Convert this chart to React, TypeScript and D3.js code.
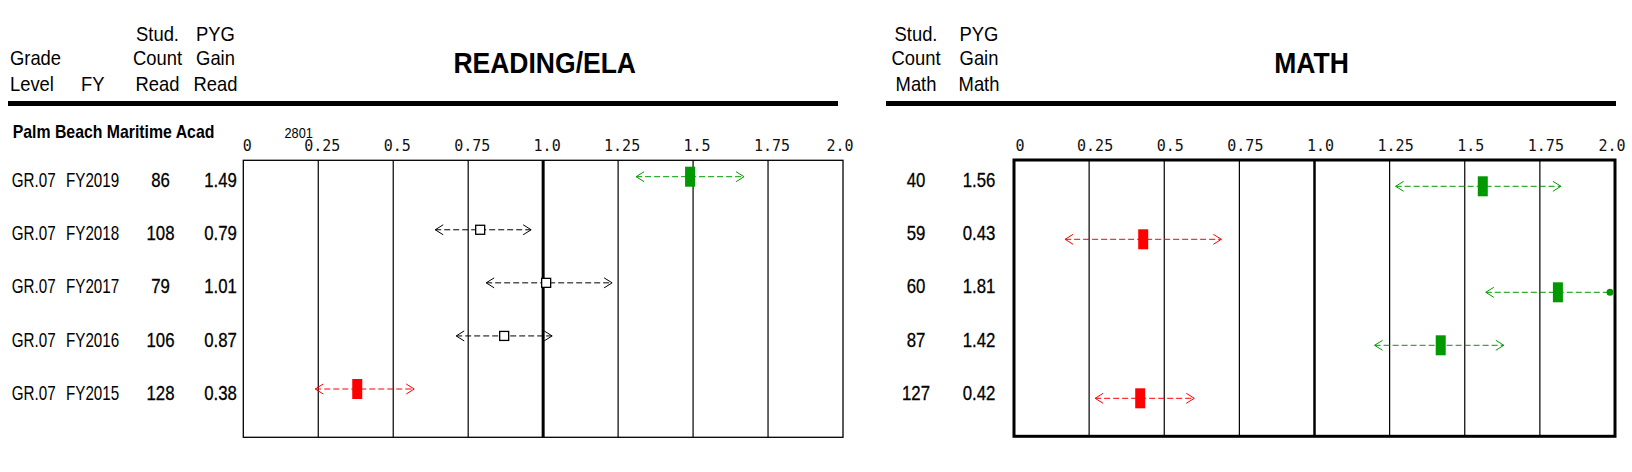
import React from 'react';
import * as d3 from 'd3';

// Row descriptors
const gradeLevels = ['GR.07', 'GR.07', 'GR.07', 'GR.07', 'GR.07'];
const fiscalYears = ['FY2019', 'FY2018', 'FY2017', 'FY2016', 'FY2015'];

// Reading / ELA
const readCounts = [86, 108, 79, 106, 128];
const readGain = [1.49, 0.79, 1.01, 0.87, 0.38];
const readLower = [1.31, 0.64, 0.81, 0.71, 0.24];
const readUpper = [1.67, 0.96, 1.23, 1.03, 0.57];
const readFlags = ['high', 'none', 'none', 'none', 'low'];

// Math
const mathCounts = [40, 59, 60, 87, 127];
const mathGain = [1.56, 0.43, 1.81, 1.42, 0.42];
const mathLower = [1.27, 0.17, 1.57, 1.2, 0.27];
const mathUpper = [1.82, 0.69, 2.08, 1.63, 0.6];
const mathFlags = ['high', 'low', 'high', 'high', 'low'];

// Gain axis
const axisTicks = [0, 0.25, 0.5, 0.75, 1.0, 1.25, 1.5, 1.75, 2.0];
const tickLabels = ['0', '0.25', '0.5', '0.75', '1.0', '1.25', '1.5', '1.75', '2.0'];

const schoolName = 'Palm Beach Maritime Acad';
const schoolCode = '2801';

const SANS = '"Liberation Sans", Arial, Helvetica, sans-serif';
const MONO = '"DejaVu Sans Mono", monospace';
const flagColor: Record<string, string> = { high: '#009900', low: '#ff0000', none: '#000' };

type CTextProps = {
  x: number;
  y: number;
  s?: number;
  size: number;
  anchor?: 'start' | 'middle' | 'end';
  weight?: string | number;
  stroke?: number;
  children: React.ReactNode;
};

// Horizontally condensed text
function CText({ x, y, s = 0.85, size, anchor = 'start', weight = 'normal', stroke = 0, children }: CTextProps) {
  return (
    <text
      transform={`translate(${x},${y}) scale(${s},1)`}
      textAnchor={anchor}
      fontFamily={SANS}
      fontSize={size}
      fontWeight={weight}
      fill="#000"
      stroke={stroke ? '#000' : 'none'}
      strokeWidth={stroke}
    >
      {children}
    </text>
  );
}

type PanelProps = {
  x0: number;
  x1: number;
  top: number;
  bottom: number;
  border: number;
  refWidth: number;
  rowTop: number;
  rowBottom: number;
  gains: number[];
  lowers: number[];
  uppers: number[];
  flags: string[];
  labelDx: number;
};

function Panel({ x0, x1, top, bottom, border, refWidth, rowTop, rowBottom, gains, lowers, uppers, flags, labelDx }: PanelProps) {
  const x = d3.scaleLinear().domain([0, 2]).range([x0, x1]);
  const y = d3.scalePoint<number>().domain(d3.range(gains.length)).range([rowTop, rowBottom]);
  const [dMin, dMax] = x.domain();

  return (
    <g>
      {/* tick labels */}
      {axisTicks.map((t, i) => (
        <text
          key={`l${i}`}
          x={t === dMax ? x(t) - 3 : x(t) + labelDx}
          y={150.7}
          textAnchor="middle"
          fontFamily={MONO}
          fontSize={15}
          fill="#111"
        >
          {tickLabels[i]}
        </text>
      ))}
      {/* grid lines */}
      {axisTicks.slice(1, -1).map((t, i) => (
        <line
          key={`g${i}`}
          x1={x(t)}
          x2={x(t)}
          y1={top}
          y2={bottom}
          stroke="#000"
          strokeWidth={t === 1 ? refWidth : 1.2}
        />
      ))}
      {/* frame */}
      <rect
        x={x0}
        y={top}
        width={x1 - x0}
        height={bottom - top}
        fill="none"
        stroke="#000"
        strokeWidth={border}
      />
      {/* confidence intervals and gain markers */}
      {gains.map((g, i) => {
        const cy = y(i) as number;
        const lo = lowers[i];
        const hi = uppers[i];
        const color = flagColor[flags[i]];
        const xl = x(Math.max(lo, dMin));
        const clipped = hi > dMax;
        const xr = clipped ? x(dMax) - 5 : x(hi);
        const xm = x(g);
        return (
          <g key={`r${i}`}>
            <line x1={xl} x2={xr} y1={cy} y2={cy} stroke={color} strokeWidth={1} strokeDasharray="6,3" />
            <polyline
              points={`${xl + 8},${cy - 5} ${xl},${cy} ${xl + 8},${cy + 5}`}
              fill="none"
              stroke={color}
              strokeWidth={1}
            />
            {clipped ? (
              <circle cx={xr} cy={cy} r={3.5} fill={color} />
            ) : (
              <polyline
                points={`${xr - 8},${cy - 5} ${xr},${cy} ${xr - 8},${cy + 5}`}
                fill="none"
                stroke={color}
                strokeWidth={1}
              />
            )}
            {flags[i] === 'none' ? (
              <rect x={xm - 4.5} y={cy - 4.5} width={9} height={9} fill="#fff" stroke="#000" strokeWidth={1.3} />
            ) : (
              <rect x={xm - 5} y={cy - 10} width={10} height={20} fill={color} />
            )}
          </g>
        );
      })}
    </g>
  );
}

export default function App() {
  const textRow = d3.scalePoint<number>().domain(d3.range(fiscalYears.length)).range([186.7, 400]);
  const fmt = d3.format('.2f');

  return (
    <svg
      width={1632}
      height={472}
      viewBox="0 0 1632 472"
      style={{ position: 'absolute', left: 0, top: 0, background: '#fff' }}
    >
      <rect x={0} y={0} width={1632} height={472} fill="#fff" />

      {/* column headers, reading side */}
      <CText x={10} y={65} size={21} s={0.875}>Grade</CText>
      <CText x={10} y={90.7} size={21} s={0.875}>Level</CText>
      <CText x={81} y={90.7} size={21} s={0.875}>FY</CText>
      <CText x={157.5} y={40.7} size={21} s={0.875} anchor="middle">Stud.</CText>
      <CText x={157.5} y={65} size={21} s={0.875} anchor="middle">Count</CText>
      <CText x={157.5} y={90.7} size={21} s={0.875} anchor="middle">Read</CText>
      <CText x={215.5} y={40.7} size={21} s={0.875} anchor="middle">PYG</CText>
      <CText x={215.5} y={65} size={21} s={0.875} anchor="middle">Gain</CText>
      <CText x={215.5} y={90.7} size={21} s={0.875} anchor="middle">Read</CText>
      <CText x={544.7} y={73.3} size={30} s={0.884} anchor="middle" weight="bold">READING/ELA</CText>
      <rect x={8} y={101} width={830} height={5} fill="#000" />

      {/* column headers, math side */}
      <CText x={916} y={40.7} size={21} s={0.875} anchor="middle">Stud.</CText>
      <CText x={916} y={65} size={21} s={0.875} anchor="middle">Count</CText>
      <CText x={916} y={90.7} size={21} s={0.875} anchor="middle">Math</CText>
      <CText x={979} y={40.7} size={21} s={0.875} anchor="middle">PYG</CText>
      <CText x={979} y={65} size={21} s={0.875} anchor="middle">Gain</CText>
      <CText x={979} y={90.7} size={21} s={0.875} anchor="middle">Math</CText>
      <CText x={1311.5} y={73} size={30} s={0.884} anchor="middle" weight="bold">MATH</CText>
      <rect x={886} y={101} width={730} height={5} fill="#000" />

      {/* school line */}
      <CText x={12.7} y={138} size={18} s={0.88} weight="bold">{schoolName}</CText>
      <CText x={284.5} y={138} size={15} s={0.85}>{schoolCode}</CText>

      {/* row labels */}
      {fiscalYears.map((fy, i) => {
        const ty = textRow(i) as number;
        return (
          <g key={fy}>
            <CText x={11.7} y={ty} size={20} s={0.76}>{gradeLevels[i]}</CText>
            <CText x={66} y={ty} size={20} s={0.76}>{fy}</CText>
            <CText x={160.5} y={ty} size={20} s={0.84} anchor="middle" stroke={0.3}>{readCounts[i]}</CText>
            <CText x={220.5} y={ty} size={20} s={0.84} anchor="middle" stroke={0.3}>{fmt(readGain[i])}</CText>
            <CText x={916} y={ty} size={20} s={0.84} anchor="middle" stroke={0.3}>{mathCounts[i]}</CText>
            <CText x={979} y={ty} size={20} s={0.84} anchor="middle" stroke={0.3}>{fmt(mathGain[i])}</CText>
          </g>
        );
      })}

      <Panel
        x0={243.3}
        x1={843}
        top={160.3}
        bottom={437.3}
        border={1.3}
        refWidth={3}
        rowTop={176.7}
        rowBottom={389}
        gains={readGain}
        lowers={readLower}
        uppers={readUpper}
        flags={readFlags}
        labelDx={4}
      />
      <Panel
        x0={1014}
        x1={1615}
        top={160}
        bottom={436.3}
        border={3}
        refWidth={2.5}
        rowTop={186.3}
        rowBottom={398.3}
        gains={mathGain}
        lowers={mathLower}
        uppers={mathUpper}
        flags={mathFlags}
        labelDx={6}
      />
    </svg>
  );
}
